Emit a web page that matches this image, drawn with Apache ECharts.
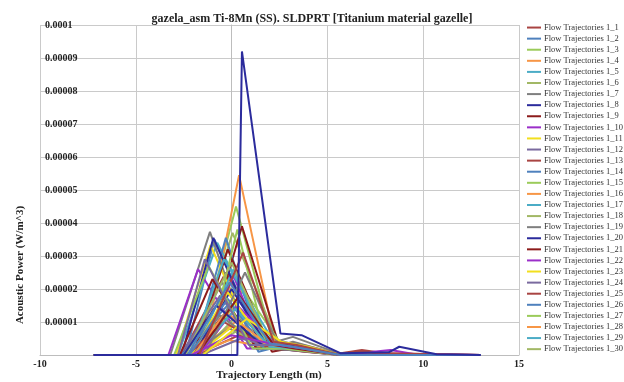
<!DOCTYPE html>
<html>
<head>
<meta charset="utf-8">
<script src="https://cdn.jsdelivr.net/npm/echarts@6/dist/echarts.min.js"></script>
<style>
html, body { margin: 0; padding: 0; background: #fff; }
#chart { width: 624px; height: 382px; }
</style>
</head>
<body>
<div id="chart"></div>
<script>
// Acoustic power along each flow trajectory: [trajectory length (m), power (W/m^3)]
var S1 = [[-7.2,0],[-2.6,0],[-0.3,2.5e-5],[1.8,0.3e-5],[3.4,0.25e-5],[5.7,0.05e-5],[6.8,0.15e-5],[8.0,0.05e-5],[13,0]];
var S2 = [[-7.2,0],[-2.4,0],[-0.9,3.5e-5],[1.5,0.4e-5],[3.0,0.3e-5],[5.7,0],[13,0]];
var S3 = [[-7.2,0],[-1.8,0],[0.23,4.5e-5],[2.1,0.5e-5],[3.2,0.3e-5],[5.7,0],[13,0]];
var S4 = [[-7.2,0],[-1.5,0],[0.39,5.45e-5],[2.3,0.3e-5],[3.4,0.35e-5],[5.7,0.02e-5],[13,0]];
var S5 = [[-7.2,0],[-2.8,0],[-0.75,3.4e-5],[2.0,0.3e-5],[3.5,0.2e-5],[5.7,0],[13,0]];
var S6 = [[-7.2,0],[-1.9,0],[0.05,3.7e-5],[2.4,0.4e-5],[3.6,0.2e-5],[5.7,0],[13,0]];
var S7 = [[-7.2,0],[-3.2,0],[-1.13,3.73e-5],[1.0,0.2e-5],[2.3,0.4e-5],[3.2,0.55e-5],[5.6,0.05e-5],[13,0]];
var S8 = [[-7.2,0],[0.3,0],[0.54,9.2e-5],[2.55,0.65e-5],[3.65,0.6e-5],[5.7,0.05e-5],[8.2,0.08e-5],[8.75,0.25e-5],[10.7,0.02e-5],[13,0]];
var S9 = [[-7.2,0],[-1.4,0],[0.54,3.9e-5],[2.5,0.25e-5],[4.0,0.15e-5],[5.7,0],[13,0]];
var S10 = [[-7.2,0],[-3.3,0],[-1.75,2.6e-5],[0.8,0.2e-5],[2.8,0.2e-5],[5.7,0],[8.3,0.15e-5],[9.5,0.03e-5],[13,0]];
var S11 = [[-7.2,0],[-2.9,0],[-1.1,3.33e-5],[1.2,0.3e-5],[3.0,0.3e-5],[5.7,0],[13,0]];
var S12 = [[-7.2,0],[-2.5,0],[-0.5,2.2e-5],[1.8,0.2e-5],[3.3,0.25e-5],[5.7,0],[13,0]];
var S13 = [[-7.2,0],[-2.2,0],[0.0,1.5e-5],[2.0,0.3e-5],[3.0,0.2e-5],[5.7,0],[6.8,0.12e-5],[7.5,0.05e-5],[13,0]];
var S14 = [[-7.2,0],[-2.0,0],[-0.3,3.55e-5],[1.5,0.3e-5],[2.7,0.4e-5],[5.7,0],[13,0]];
var S15 = [[-7.2,0],[-1.5,0],[0.6,2.0e-5],[2.5,0.4e-5],[3.6,0.25e-5],[5.7,0],[13,0]];
var S16 = [[-7.2,0],[-2.2,0],[0.2,1.0e-5],[2.6,0.3e-5],[4.0,0.2e-5],[5.7,0],[13,0]];
var S17 = [[-7.2,0],[-2.0,0],[0.1,2.6e-5],[1.9,0.2e-5],[3.1,0.3e-5],[5.7,0],[13,0]];
var S18 = [[-7.2,0],[-1.7,0],[0.3,1.2e-5],[2.2,0.35e-5],[3.5,0.2e-5],[5.7,0],[13,0]];
var S19 = [[-7.2,0],[-2.4,0],[-0.1,0.8e-5],[2.0,0.2e-5],[3.2,0.4e-5],[5.7,0],[13,0]];
var S20 = [[-7.2,0],[-2.6,0],[-0.95,3.55e-5],[1.6,0.2e-5],[3.0,0.15e-5],[5.7,0],[13,0]];
var S21 = [[-7.2,0],[-2.0,0],[-0.2,3.2e-5],[2.1,0.1e-5],[3.0,0.2e-5],[5.7,0],[13,0]];
var S22 = [[-7.2,0],[-1.6,0],[0.1,2.4e-5],[1.6,0.3e-5],[3.3,0.3e-5],[5.7,0],[13,0]];
var S23 = [[-7.2,0],[-1.8,0],[0.1,0.9e-5],[2.0,0.3e-5],[3.6,0.25e-5],[5.7,0],[13,0]];
var S24 = [[-7.2,0],[-2.7,0],[-0.6,1.8e-5],[1.4,0.2e-5],[3.0,0.2e-5],[5.7,0],[13,0]];
var S25 = [[-7.2,0],[-1.9,0],[0.4,0.6e-5],[2.4,0.2e-5],[3.8,0.1e-5],[5.7,0],[13,0]];
var S26 = [[-7.2,0],[-2.6,0],[0.1,1.7e-5],[1.4,0.1e-5],[2.8,0.3e-5],[5.7,0],[13,0]];
var S27 = [[-7.2,0],[-1.3,0],[0.3,3.8e-5],[1.8,0.3e-5],[3.0,0.3e-5],[5.7,0],[13,0]];
var S28 = [[-7.2,0],[-2.1,0],[-0.1,0.45e-5],[2.2,0.2e-5],[3.4,0.3e-5],[5.7,0],[13,0]];
var S29 = [[-7.2,0],[-2.2,0],[-0.4,2.9e-5],[2.3,0.3e-5],[3.2,0.2e-5],[5.7,0],[13,0]];
var S30 = [[-7.2,0],[-2.0,0],[0.2,0.7e-5],[2.1,0.25e-5],[3.5,0.2e-5],[5.7,0],[13,0]];
// trajectories drawn but not listed in the legend
var S31 = [[-7.2,0],[-2.3,0],[-0.6,1.2e-5],[1.7,0.2e-5],[3.1,0.15e-5],[5.7,0],[13,0]];
var S32 = [[-7.2,0],[-2.0,0],[0.0,2.0e-5],[1.9,0.25e-5],[3.3,0.2e-5],[5.7,0],[13,0]];
var S33 = [[-7.2,0],[-2.7,0],[-1.0,2.3e-5],[1.3,0.2e-5],[2.9,0.25e-5],[5.7,0],[13,0]];
var S34 = [[-7.2,0],[-1.7,0],[0.3,1.5e-5],[2.3,0.3e-5],[3.7,0.2e-5],[5.7,0],[13,0]];
var S35 = [[-7.2,0],[-2.1,0],[-0.2,1.9e-5],[1.9,0.2e-5],[3.2,0.2e-5],[5.7,0],[13,0]];
var S36 = [[-7.2,0],[-1.6,0],[0.5,0.5e-5],[2.4,0.2e-5],[3.9,0.15e-5],[5.7,0],[13,0]];
var S37 = [[-7.2,0],[-2.3,0],[-0.4,1.0e-5],[1.8,0.25e-5],[3.4,0.3e-5],[5.7,0],[13,0]];
var S38 = [[-7.2,0],[-2.2,0],[-0.2,1.7e-5],[1.7,0.2e-5],[3.0,0.2e-5],[5.7,0],[13,0]];
var S39 = [[-7.2,0],[-3.0,0],[-1.2,2.7e-5],[1.1,0.2e-5],[2.7,0.2e-5],[5.7,0],[13,0]];
var S40 = [[-7.2,0],[-2.0,0],[-0.3,1.3e-5],[1.9,0.3e-5],[3.3,0.2e-5],[5.7,0],[13,0]];
var S41 = [[-7.2,0],[-1.9,0],[0.2,1.4e-5],[2.0,0.25e-5],[3.5,0.2e-5],[5.7,0],[13,0]];
var S42 = [[-7.2,0],[-2.4,0],[0.0,2.8e-5],[2.0,0.3e-5],[3.1,0.25e-5],[5.7,0],[13,0]];
var S43 = [[-7.2,0],[-1.4,0],[0.7,2.5e-5],[2.4,0.35e-5],[3.6,0.3e-5],[5.7,0],[13,0]];
var S44 = [[-7.2,0],[-2.5,0],[-0.8,1.5e-5],[1.6,0.3e-5],[3.0,0.3e-5],[5.7,0],[13,0]];
var S45 = [[-7.2,0],[-1.8,0],[0.4,1.8e-5],[2.2,0.3e-5],[3.3,0.2e-5],[5.7,0],[13,0]];
var S46 = [[-7.2,0],[-2.1,0],[0.0,0.6e-5],[2.4,0.3e-5],[3.8,0.2e-5],[5.7,0],[13,0]];
var S47 = [[-7.2,0],[-1.5,0],[0.8,1.1e-5],[2.6,0.4e-5],[4.0,0.25e-5],[5.7,0],[13,0]];
var S48 = [[-7.2,0],[-2.8,0],[-1.4,2.9e-5],[0.9,0.3e-5],[2.6,0.3e-5],[5.7,0],[13,0]];
var S49 = [[-7.2,0],[-1.7,0],[0.6,3.1e-5],[2.2,0.4e-5],[3.4,0.3e-5],[5.7,0],[13,0]];
var S50 = [[-7.2,0],[-2.3,0],[-0.1,2.2e-5],[2.0,0.35e-5],[3.2,0.25e-5],[5.7,0],[13,0]];

var seriesData = [S1,S2,S3,S4,S5,S6,S7,S8,S9,S10,S11,S12,S13,S14,S15,S16,S17,S18,S19,S20,
  S21,S22,S23,S24,S25,S26,S27,S28,S29,S30,S31,S32,S33,S34,S35,S36,S37,S38,S39,S40,
  S41,S42,S43,S44,S45,S46,S47,S48,S49,S50];
var legendCount = 30;

var palette = ['#A94442', '#4F81BD', '#9BCB5A', '#F79646', '#4BACC6', '#A2B865',
  '#7F7F7F', '#2B2B9C', '#8C1B1B', '#9B2FC9', '#F2DF1E', '#7A6A9F'];

var xTicks = { min: -10, max: 15, interval: 5 };
var yTicks = { min: 0, max: 1e-4, interval: 1e-5 };

var FONT = '"Liberation Serif", "DejaVu Serif", serif';

var series = [];
var legendNames = [];
for (var i = 0; i < seriesData.length; i++) {
  var name = 'Flow Trajectories 1_' + (i + 1);
  if (i < legendCount) legendNames.push(name);
  series.push({
    name: name,
    type: 'line',
    data: seriesData[i],
    showSymbol: false,
    smooth: false,
    lineStyle: { width: 2, color: palette[i % palette.length] },
    itemStyle: { color: palette[i % palette.length] }
  });
}
// the tall peak sits on top
var top8 = series.splice(7, 1)[0];
series.push(top8);

var chart = echarts.init(document.getElementById('chart'));
chart.setOption({
  animation: false,
  backgroundColor: '#fff',
  title: {
    text: 'gazela_asm Ti-8Mn (SS). SLDPRT [Titanium material gazelle]',
    left: 'center',
    top: 8,
    textStyle: { fontFamily: FONT, fontSize: 12, fontWeight: 'bold', color: '#222' }
  },
  legend: {
    data: legendNames,
    orient: 'vertical',
    left: 527,
    top: 22,
    icon: 'rect',
    itemWidth: 14,
    itemHeight: 2,
    itemGap: 0,
    padding: 0,
    textStyle: { fontFamily: FONT, fontSize: 8.5, color: '#333', lineHeight: 11.09, padding: [0, 0, 0, -2] }
  },
  grid: { left: 40, right: 105, top: 25, bottom: 27 },
  xAxis: {
    type: 'value',
    min: xTicks.min,
    max: xTicks.max,
    interval: xTicks.interval,
    axisLine: { lineStyle: { color: '#BDBDBD' } },
    axisTick: { show: false },
    axisLabel: { fontFamily: FONT, fontSize: 10, fontWeight: 'bold', color: '#222', margin: 4 },
    splitLine: { lineStyle: { color: '#CACACA' } }
  },
  yAxis: {
    type: 'value',
    min: yTicks.min,
    max: yTicks.max,
    interval: yTicks.interval,
    axisLine: { show: true, lineStyle: { color: '#BDBDBD' } },
    axisTick: { show: false },
    axisLabel: {
      inside: true,
      margin: 5,
      fontFamily: FONT, fontSize: 10, fontWeight: 'bold', color: '#222',
      formatter: function (v) { return v === 0 ? '' : String(+v.toPrecision(3)); }
    },
    splitLine: { lineStyle: { color: '#CACACA' } }
  },
  graphic: [
    {
      type: 'text', x: 20, y: 265, rotation: Math.PI / 2,
      style: { text: 'Acoustic Power (W/m^3)', fontFamily: FONT, fontSize: 11, fontWeight: 'bold',
        fill: '#222', align: 'center', verticalAlign: 'middle' }
    },
    {
      type: 'text', x: 269, y: 375,
      style: { text: 'Trajectory Length (m)', fontFamily: FONT, fontSize: 11, fontWeight: 'bold',
        fill: '#222', align: 'center', verticalAlign: 'middle' }
    }
  ],
  series: series
});
</script>
</body>
</html>
